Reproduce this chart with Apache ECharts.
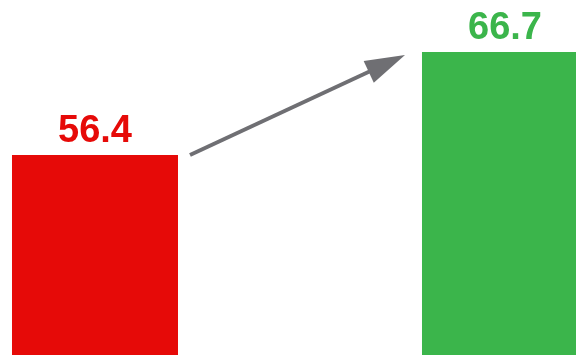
<!DOCTYPE html>
<html>
<head>
<meta charset="utf-8">
<style>html,body{margin:0;padding:0;background:#fff;}#c{width:576px;height:355px;}</style>
<script src="https://cdn.jsdelivr.net/npm/echarts@6/dist/echarts.min.js"></script>
</head>
<body>
<div id="c"></div>
<script>
const categories = ['Before', 'After'];
const values = [56.4, 66.7];
const barColors = ['#e60a08', '#3bb54b'];

const chart = echarts.init(document.getElementById('c'), null, {renderer: 'canvas'});
const option = {
  animation: false,
  backgroundColor: '#ffffff',
  grid: {left: 0, right: 0, top: 52, bottom: 0},
  xAxis: {type: 'value', min: -0.2317, max: 1.1732, show: false},
  yAxis: {type: 'value', min: 36.4, max: 66.7, show: false},
  series: [{
    type: 'bar',
    barWidth: 166,
    data: values.map((v, i) => ({value: [i, v], name: categories[i],
      itemStyle: {color: barColors[i]}, label: {color: barColors[i]}})),
    label: {
      show: true, position: 'top', distance: 4,
      fontFamily: 'Liberation Sans', fontWeight: 'bold', fontSize: 38,
      formatter: p => p.value[1].toFixed(1)
    }
  }]
};
chart.setOption(option);

// arrow annotation between bar tops
const p0 = chart.convertToPixel({gridIndex: 0}, [0, values[0]]);
const p1 = chart.convertToPixel({gridIndex: 0}, [1, values[1]]);
const half = 83;
const sx = p0[0] + half + 12, sy = p0[1];
const ex = p1[0] - half - 17, ey = p1[1] + 3;
const dx = ex - sx, dy = ey - sy, len = Math.hypot(dx, dy);
const ux = dx / len, uy = dy / len, nx = -uy, ny = ux;
const L = 40, W = 12;
const bx = ex - L * ux, by = ey - L * uy;
chart.setOption({
  graphic: [
    {type: 'line', shape: {x1: sx, y1: sy, x2: bx + 2 * ux, y2: by + 2 * uy},
      style: {stroke: '#6f6f73', lineWidth: 4}},
    {type: 'polygon', shape: {points: [[ex, ey], [bx + W * nx, by + W * ny], [bx - W * nx, by - W * ny]]},
      style: {fill: '#6f6f73'}}
  ]
});
</script>
</body>
</html>
